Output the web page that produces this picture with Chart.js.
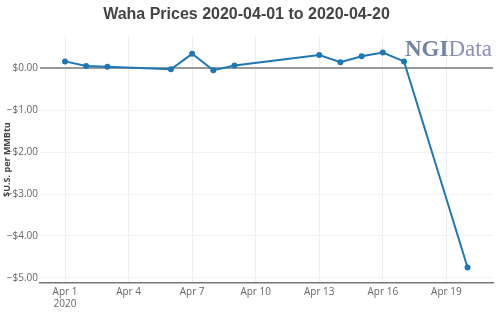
<!DOCTYPE html>
<html>
<head>
<meta charset="utf-8">
<script src="https://cdn.jsdelivr.net/npm/chart.js@4"></script>
<style>
  body { margin: 0; background: #fff; }
  #wrap { position: relative; width: 500px; height: 312px; }
</style>
</head>
<body>
<div id="wrap"><canvas id="wahaChart"></canvas></div>
<script>
// day of April 2020 (trading days only)
const days = [1, 2, 3, 6, 7, 8, 9, 13, 14, 15, 16, 17, 20];
const prices = [0.16, 0.05, 0.03, -0.03, 0.34, -0.05, 0.06, 0.31, 0.14, 0.28, 0.37, 0.16, -4.75];
const xTickDays = [1, 4, 7, 10, 13, 16, 19];
const yTickValues = [0, -1, -2, -3, -4, -5];

const lineColor = '#1f77b4';
const tickFont = { family: '"Open Sans", sans-serif', size: 10 };

// watermark + rotated axis title drawn straight on the canvas
const extras = {
    id: 'extras',
    beforeDatasetsDraw(chart) {
        const ctx = chart.ctx;
        ctx.save();
        ctx.textBaseline = 'alphabetic';
        ctx.font = 'bold 23px "Liberation Serif", serif';
        ctx.fillStyle = '#7383a4';
        ctx.fillText('NGI', 405, 56);
        const w = ctx.measureText('NGI').width;
        ctx.font = '23px "Liberation Serif", serif';
        ctx.fillStyle = '#8a90b8';
        ctx.fillText('Data', 405 + w, 56);
        ctx.restore();
    },
    afterDraw(chart) {
        const ctx = chart.ctx;
        const a = chart.chartArea;
        ctx.save();
        ctx.translate(7, (a.top + a.bottom) / 2);
        ctx.rotate(-Math.PI / 2);
        ctx.textAlign = 'center';
        ctx.textBaseline = 'middle';
        ctx.font = 'bold 9px "Open Sans", sans-serif';
        ctx.fillStyle = '#444';
        ctx.fillText('$U.S. per MMBtu', 0, 0);
        ctx.restore();
    }
};

new Chart(document.getElementById('wahaChart'), {
    type: 'line',
    data: {
        datasets: [{
            data: days.map((d, i) => ({ x: d, y: prices[i] })),
            borderColor: lineColor,
            backgroundColor: lineColor,
            borderWidth: 2,
            pointRadius: 3,
            pointBorderWidth: 0,
            tension: 0
        }]
    },
    options: {
        responsive: true,
        maintainAspectRatio: false,
        animation: false,
        layout: { padding: { left: 0, right: 7, top: 0, bottom: 0 } },
        plugins: {
            legend: { display: false },
            tooltip: { enabled: false },
            title: {
                display: true,
                text: 'Waha Prices 2020-04-01 to 2020-04-20',
                color: '#444',
                font: { family: '"Liberation Sans", Arial, sans-serif', size: 16, weight: 'bold' },
                padding: { top: 5, bottom: 12 }
            }
        },
        scales: {
            x: {
                type: 'linear',
                min: -0.18,
                max: 21.2,
                afterBuildTicks: s => { s.ticks = xTickDays.map(v => ({ value: v })); },
                afterFit: s => { s.height = 29; },
                ticks: {
                    color: '#666',
                    font: tickFont,
                    padding: 3,
                    maxRotation: 0,
                    callback: v => v === 1 ? ['Apr 1', '2020'] : 'Apr ' + v
                },
                grid: { color: '#eee', drawTicks: false },
                border: { color: '#777', width: 1.5 }
            },
            y: {
                min: -5.12,
                max: 0.76,
                afterBuildTicks: s => { s.ticks = yTickValues.map(v => ({ value: v })); },
                afterFit: s => { s.width = 40; },
                ticks: {
                    color: '#666',
                    font: tickFont,
                    padding: 2,
                    callback: v => (v < 0 ? '\u2212$' : '$') + Math.abs(v).toFixed(2)
                },
                grid: {
                    drawTicks: false,
                    color: c => c.tick && c.tick.value === 0 ? '#999' : '#f2f2f2',
                    lineWidth: c => c.tick && c.tick.value === 0 ? 2 : 1
                },
                border: { display: false }
            }
        }
    },
    plugins: [extras]
});
</script>
</body>
</html>
